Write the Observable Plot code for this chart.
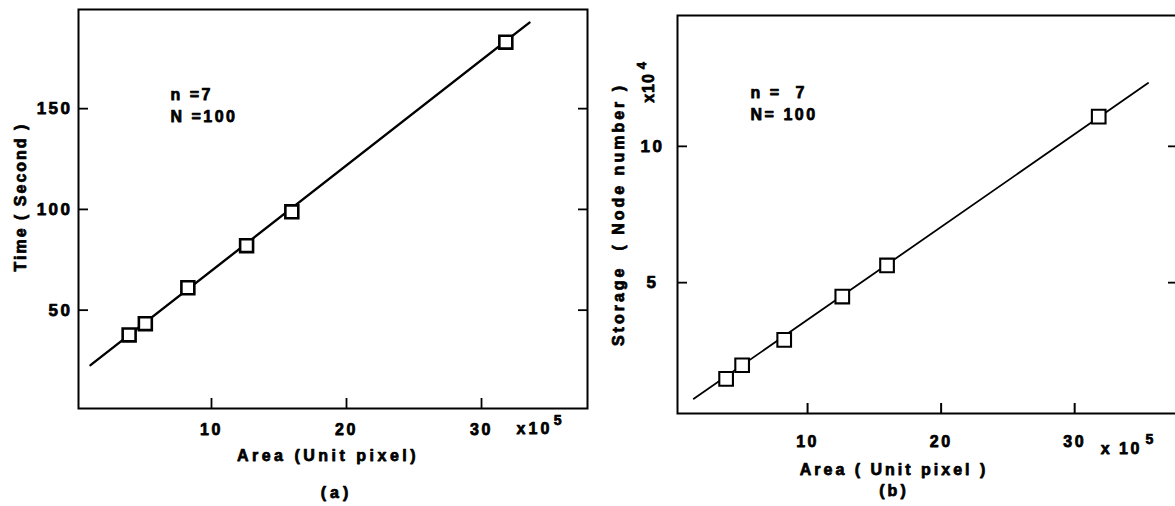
<!DOCTYPE html>
<html>
<head>
<meta charset="utf-8">
<script src="https://cdn.jsdelivr.net/npm/d3@7"></script>
<script src="https://cdn.jsdelivr.net/npm/@observablehq/plot@0.6"></script>
<style>
  html, body { margin: 0; padding: 0; background: #fff; overflow: hidden; width: 1175px; height: 506px; }
  #wrap { position: relative; width: 1175px; height: 506px; overflow: hidden; }
  #a { position: absolute; left: 0; top: 0; width: 600px; height: 506px; }
  #b { position: absolute; left: 600px; top: 0; width: 580px; height: 506px; }
  svg { max-width: none !important; }
</style>
</head>
<body>
<div id="wrap"><div id="a"></div><div id="b"></div></div>
<script>
// ---- data (area in units of 10^5 pixels) ----
const area = [3.9, 5.1, 8.25, 12.6, 15.95, 31.8];
const timeSec = [37.7, 43.3, 61.1, 82.0, 98.8, 183.0];
const storage = [1.47, 1.97, 2.90, 4.49, 5.63, 11.09];   // x10^4 nodes
const fitAreaA = [1.04, 33.55];
const fitTime = [22.7, 192.7];
const fitAreaB = [1.48, 35.5];
const fitStorage = [0.74, 12.32];
const xTicks = [10, 20, 30];
const timeTicks = [50, 100, 150];
const storageTicks = [5, 10];

const ptsA = area.map((x, i) => ({x, y: timeSec[i]}));
const ptsB = area.map((x, i) => ({x, y: storage[i]}));
const lineA = fitAreaA.map((x, i) => ({x, y: fitTime[i]}));
const lineB = fitAreaB.map((x, i) => ({x, y: fitStorage[i]}));

const FONT = "'Liberation Sans', Arial, Helvetica, sans-serif";
const svgStyle = `font-family: ${FONT}; font-weight: bold; color: #000; background: transparent; letter-spacing: 2.5px;`;

function tune(svg, spacing) {
  d3.select(svg).selectAll("text").each(function () {
    const t = this.textContent;
    if (spacing[t] != null) this.style.letterSpacing = spacing[t] + "px";
    this.style.stroke = "#000";
    this.style.strokeWidth = "0.75px";
    this.style.strokeLinejoin = "round";
  });
  return svg;
}

// ---- panel (a) ----
const A = Plot.plot({
  width: 600, height: 506,
  marginLeft: 78, marginRight: 13, marginTop: 9, marginBottom: 98,
  style: svgStyle,
  x: {domain: [0.15, 37.85]},
  y: {domain: [1.2, 199.2]},
  marks: [
    Plot.frame({stroke: "#000", strokeWidth: 2}),
    Plot.axisX(xTicks, {anchor: "bottom", tickSize: 10, dy: -10, tickPadding: 15, fontSize: 16, strokeWidth: 1.8, label: null}),
    Plot.axisY(timeTicks, {anchor: "left", tickSize: 10, dx: 10, tickPadding: 6, fontSize: 17, strokeWidth: 1.8, label: null}),
    Plot.axisY(timeTicks, {anchor: "right", tickSize: 10, dx: -10, tickFormat: () => "", strokeWidth: 1.8, label: null}),
    Plot.line(lineA, {x: "x", y: "y", stroke: "#000", strokeWidth: 2.4}),
    Plot.dot(ptsA, {x: "x", y: "y", symbol: "square", r: 7.3, fill: "#fff", stroke: "#000", strokeWidth: 2.6}),
    Plot.text(["n =7"], {x: 6.96, y: 154.2, textAnchor: "start", lineAnchor: "bottom", fontSize: 16}),
    Plot.text(["N =100"], {x: 6.96, y: 143.3, textAnchor: "start", lineAnchor: "bottom", fontSize: 16}),
    Plot.text(["Time ( Second )"], {frameAnchor: "left", rotate: -90, dx: -58, dy: -12, fontSize: 16, textAnchor: "middle", lineAnchor: "middle"}),
    Plot.text(["Area (Unit pixel)"], {frameAnchor: "bottom", dx: -5, dy: 52, fontSize: 16, textAnchor: "middle", lineAnchor: "bottom"}),
    Plot.text(["(a)"], {frameAnchor: "bottom", dx: 3.5, dy: 89, fontSize: 16, textAnchor: "middle", lineAnchor: "bottom"}),
    Plot.text(["x10"], {x: 32.6, frameAnchor: "bottom", dy: 25, textAnchor: "start", lineAnchor: "bottom", fontSize: 16}),
    Plot.text(["5"], {x: 35.35, frameAnchor: "bottom", dy: 16, textAnchor: "start", lineAnchor: "bottom", fontSize: 14})
  ]
});
tune(A, {"Time ( Second )": 2, "Area (Unit pixel)": 3.5, "(a)": 4, "x10": 3});
document.getElementById("a").appendChild(A);

// ---- panel (b) ----
const B = Plot.plot({
  width: 580, height: 506,
  marginLeft: 77, marginRight: 3, marginTop: 15, marginBottom: 93,
  style: svgStyle,
  x: {domain: [0.26, 37.7]},
  y: {domain: [0.2, 14.8]},
  marks: [
    Plot.frame({stroke: "#000", strokeWidth: 2}),
    Plot.axisX(xTicks, {anchor: "bottom", tickSize: 10, dy: -10, tickPadding: 22, fontSize: 16, strokeWidth: 2, label: null}),
    Plot.axisY(storageTicks, {anchor: "left", tickSize: 10, dx: 10, tickPadding: 25, textAnchor: "middle", fontSize: 17, strokeWidth: 1.8, label: null}),
    Plot.axisY(storageTicks, {anchor: "right", tickSize: 10, dx: -10, tickFormat: () => "", strokeWidth: 1.8, label: null}),
    Plot.line(lineB, {x: "x", y: "y", stroke: "#000", strokeWidth: 1.8}),
    Plot.dot(ptsB, {x: "x", y: "y", symbol: "square", r: 7.7, fill: "#fff", stroke: "#000", strokeWidth: 2.1}),
    Plot.text(["n =  7"], {x: 5.73, y: 11.76, textAnchor: "start", lineAnchor: "bottom", fontSize: 16}),
    Plot.text(["N= 100"], {x: 5.73, y: 10.95, textAnchor: "start", lineAnchor: "bottom", fontSize: 16}),
    Plot.text(["Storage  ( Node number )"], {frameAnchor: "left", rotate: -90, dx: -59, dy: 0, fontSize: 16, textAnchor: "middle", lineAnchor: "middle"}),
    Plot.text(["x10"], {frameAnchor: "left", rotate: -90, dx: -28.5, dy: -126.5, fontSize: 16, textAnchor: "middle", lineAnchor: "middle"}),
    Plot.text(["4"], {frameAnchor: "left", rotate: -90, dx: -36, dy: -150, fontSize: 13, textAnchor: "middle", lineAnchor: "middle"}),
    Plot.text(["Area ( Unit pixel )"], {frameAnchor: "bottom", dx: -33.5, dy: 61, fontSize: 16, textAnchor: "middle", lineAnchor: "bottom"}),
    Plot.text(["(b)"], {frameAnchor: "bottom", dx: -33.5, dy: 82, fontSize: 16, textAnchor: "middle", lineAnchor: "bottom"}),
    Plot.text(["x 10"], {x: 31.95, frameAnchor: "bottom", dy: 40, textAnchor: "start", lineAnchor: "bottom", fontSize: 16}),
    Plot.text(["5"], {x: 35.3, frameAnchor: "bottom", dy: 30, textAnchor: "start", lineAnchor: "bottom", fontSize: 14})
  ]
});
tune(B, {"Storage  ( Node number )": 3, "Area ( Unit pixel )": 3, "(b)": 3, "x 10": 2.5, "x10": 1});
document.getElementById("b").appendChild(B);
</script>
</body>
</html>
